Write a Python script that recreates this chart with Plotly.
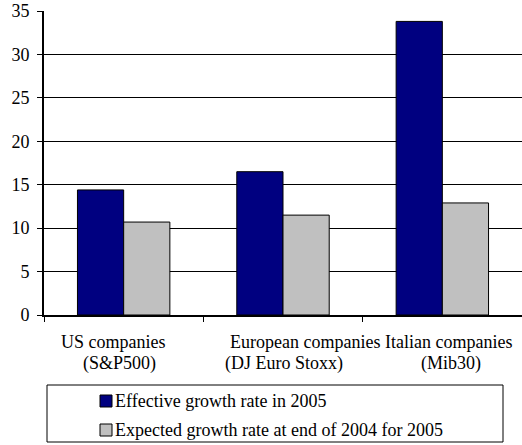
import plotly.graph_objects as go

# Growth rates of company earnings, 2005 (%)
categories = ["US companies", "European companies", "Italian companies"]
indices = ["(S&P500)", "(DJ Euro Stoxx)", "(Mib30)"]
effective_2005 = [14.4, 16.5, 33.8]
expected_2005 = [10.7, 11.5, 12.9]
series_names = [
    "Effective growth rate in 2005",
    "Expected growth rate at end of 2004 for 2005",
]
series_colors = ["#000080", "#C0C0C0"]
y_ticks = [0, 5, 10, 15, 20, 25, 30, 35]

FONT = "Liberation Serif"
W, H = 522, 445
ML, MR, MT, MB = 44, 0, 11, 130
PW, PH = W - ML - MR, H - MT - MB


def px_x(p):
    """Page pixel column -> paper x."""
    return (p - ML) / PW


def px_y(p):
    """Page pixel row -> paper y."""
    return (H - MB - p) / PH


fig = go.Figure()
for name, vals, col in zip(series_names, [effective_2005, expected_2005], series_colors):
    fig.add_trace(go.Bar(
        x=categories, y=vals, name=name,
        marker=dict(color=col, line=dict(color="black", width=1)),
        showlegend=False,
    ))

# two-line category captions under the axis
line1_shift = [-11, 22, 6]
line2_shift = [-4, 1, 9]
annotations = []
for cat, idx, s1, s2 in zip(categories, indices, line1_shift, line2_shift):
    annotations.append(dict(
        x=cat, xref="x", y=px_y(342), yref="paper", text=cat,
        showarrow=False, xanchor="center", yanchor="middle", xshift=s1,
        font=dict(family=FONT, size=18, color="black"),
    ))
    annotations.append(dict(
        x=cat, xref="x", y=px_y(363), yref="paper", text=idx,
        showarrow=False, xanchor="center", yanchor="middle", xshift=s2,
        font=dict(family=FONT, size=18, color="black"),
    ))

# legend drawn as a boxed key below the chart
shapes = [dict(
    type="rect", xref="paper", yref="paper",
    x0=px_x(47), x1=px_x(503), y0=px_y(385), y1=px_y(442),
    line=dict(color="black", width=1), fillcolor="white", layer="above",
)]
row_centers = [401, 430]
for name, col, yc in zip(series_names, series_colors, row_centers):
    shapes.append(dict(
        type="rect", xref="paper", yref="paper",
        x0=px_x(100), x1=px_x(112), y0=px_y(yc - 6), y1=px_y(yc + 6),
        line=dict(color="black", width=1), fillcolor=col, layer="above",
    ))
    annotations.append(dict(
        x=px_x(113), xref="paper", y=px_y(yc), yref="paper", text=name,
        showarrow=False, xanchor="left", yanchor="middle",
        font=dict(family=FONT, size=18, color="black"),
    ))

fig.update_layout(
    width=W, height=H,
    margin=dict(l=ML, r=MR, t=MT, b=MB),
    paper_bgcolor="white", plot_bgcolor="white",
    font=dict(family=FONT, size=18, color="black"),
    barmode="group", bargap=0.42, bargroupgap=0,
    showlegend=False,
    shapes=shapes,
    annotations=annotations,
)

fig.update_xaxes(
    type="category", automargin=False,
    showline=True, linecolor="black", linewidth=2,
    ticks="outside", tickson="boundaries", ticklen=5, tickcolor="black",
    showgrid=False, showticklabels=False,
)
fig.update_yaxes(
    range=[0, 35], tickvals=y_ticks, automargin=False,
    showline=True, linecolor="black", linewidth=2,
    ticks="outside", ticklen=5, tickcolor="black",
    ticklabelstandoff=4,
    showgrid=True, gridcolor="black", gridwidth=1,
    zeroline=False,
    tickfont=dict(family=FONT, size=18, color="black"),
)

fig.write_html("out.html")
